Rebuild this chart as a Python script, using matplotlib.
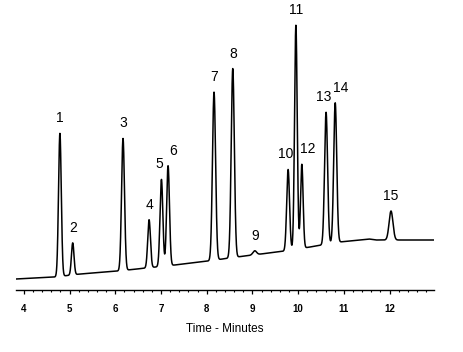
import numpy as np
import matplotlib
matplotlib.use("Agg")
import matplotlib.pyplot as plt
from matplotlib.ticker import MultipleLocator

plt.rcParams['font.family'] = ['Liberation Sans', 'DejaVu Sans']

# ---------- data ----------
peak_labels = ["1", "2", "3", "4", "5", "6", "7", "8", "9", "10", "11", "12", "13", "14", "15"]
peak_times = [4.79, 5.07, 6.17, 6.74, 7.01, 7.155, 8.16, 8.57, 9.05, 9.78, 9.95, 10.08, 10.61, 10.81, 12.03]
peak_heights = [143, 32, 132, 48, 87, 100, 168, 189, 4, 81, 224, 84, 132, 140, 29]
peak_sigmas = [0.030, 0.028, 0.032, 0.030, 0.031, 0.031, 0.034, 0.034, 0.040, 0.031, 0.029, 0.028, 0.033, 0.033, 0.042]

# baseline drift (time, signal)
base_t = [3.83, 4.68, 5.23, 6.06, 7.30, 8.03, 8.66, 9.71, 10.26, 10.91, 11.55, 11.70, 12.97]
base_y = [9, 11, 14, 17, 23, 27, 31, 37, 41, 46, 49, 48, 48]

# ---------- build trace ----------
t = np.linspace(3.83, 12.97, 6000)
signal = np.interp(t, base_t, base_y)
for rt, h, s in zip(peak_times, peak_heights, peak_sigmas):
    signal = signal + h * np.exp(-0.5 * ((t - rt) / s) ** 2)

fig = plt.figure(figsize=(4.64, 3.52), dpi=100)
ax = fig.add_axes([16 / 464, (352 - 289.5) / 352, (434 - 16) / 464, 289.5 / 352])
ax.plot(t, signal, color="black", linewidth=1.1)

# peak numbers just above each apex
for lab, rt, h in zip(peak_labels, peak_times, peak_heights):
    apex = np.interp(rt, base_t, base_y) + h
    dx = 0.0
    if lab in ("12", "14", "6"):
        dx = 0.12
    if lab in ("10", "13", "5"):
        dx = -0.05
    ax.text(rt + dx, apex + 8, lab, ha="center", va="bottom", fontsize=10)

ax.set_xlim(3.83, 12.97)
ax.set_ylim(-1.5, 288)
for side in ("left", "right", "top"):
    ax.spines[side].set_visible(False)
ax.spines["bottom"].set_linewidth(1.0)
ax.set_yticks([])
ax.xaxis.set_major_locator(MultipleLocator(1))
ax.xaxis.set_minor_locator(MultipleLocator(0.2))
ax.tick_params(axis="x", which="major", length=2.6, width=0.9, labelsize=7, pad=8)
ax.tick_params(axis="x", which="minor", length=1.6, width=0.8)
ax.set_xticks(range(4, 13))
for lbl in ax.get_xticklabels():
    lbl.set_fontweight("bold")
ax.set_xlabel("Time - Minutes", fontsize=8.5, labelpad=6)

fig.savefig("out.png", dpi=100)
